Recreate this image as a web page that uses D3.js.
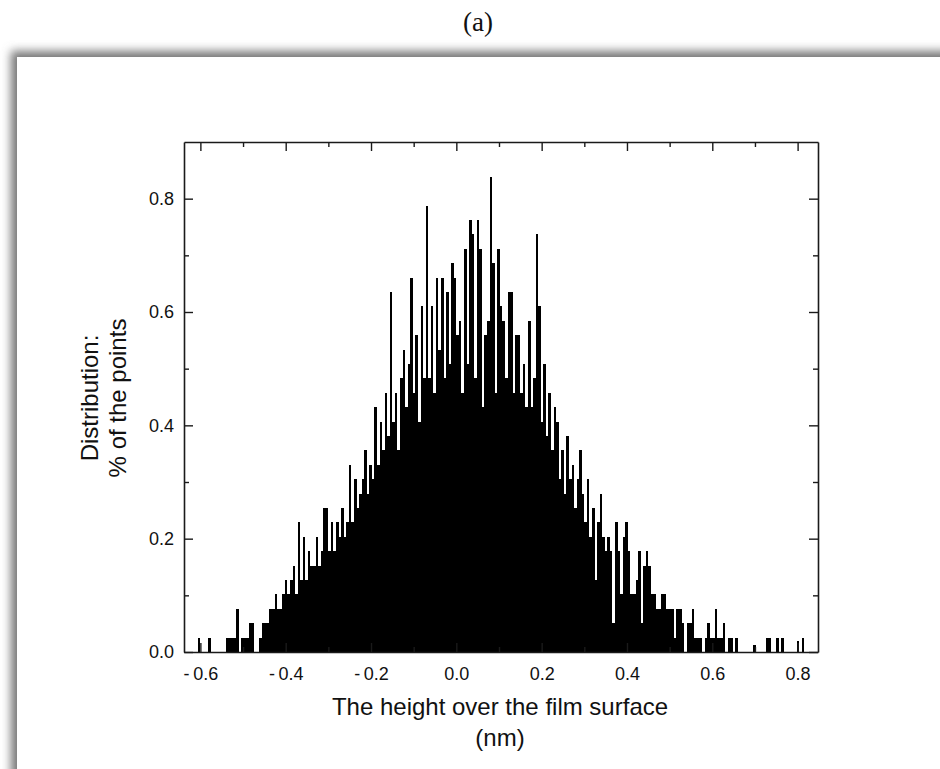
<!DOCTYPE html>
<html>
<head>
<meta charset="utf-8">
<script src="https://cdn.jsdelivr.net/npm/d3@7"></script>
<style>
  html, body { margin: 0; padding: 0; background: #fff; }
  svg { display: block; }
  text { font-family: "Liberation Sans", Arial, sans-serif; fill: #111; }
</style>
</head>
<body>
<div id="chart"></div>
<script>
// height histogram: share of the points (%) in each bin
const binStart = -0.606;
const binWidth = 0.006;
const distribution = [
    0.025, 0, 0, 0, 0.025, 0, 0, 0, 0, 0,
    0, 0.025, 0.025, 0.025, 0.025, 0.076, 0, 0.025, 0.025, 0.025,
    0.051, 0.051, 0, 0, 0.025, 0.051, 0.051, 0.051, 0.076, 0.076,
    0.102, 0.076, 0.076, 0.102, 0.127, 0.102, 0.127, 0.152, 0.102, 0.229,
    0.127, 0.203, 0.127, 0.178, 0.152, 0.152, 0.203, 0.152, 0.178, 0.254,
    0.254, 0.178, 0.229, 0.178, 0.229, 0.203, 0.254, 0.203, 0.229, 0.330,
    0.229, 0.305, 0.254, 0.279, 0.305, 0.356, 0.279, 0.330, 0.305, 0.432,
    0.330, 0.406, 0.356, 0.457, 0.381, 0.635, 0.406, 0.457, 0.356, 0.483,
    0.533, 0.432, 0.508, 0.660, 0.457, 0.559, 0.406, 0.610, 0.483, 0.787,
    0.483, 0.610, 0.457, 0.660, 0.533, 0.660, 0.483, 0.635, 0.508, 0.686,
    0.660, 0.559, 0.584, 0.457, 0.711, 0.508, 0.762, 0.737, 0.483, 0.762,
    0.711, 0.432, 0.559, 0.584, 0.838, 0.686, 0.457, 0.711, 0.610, 0.584,
    0.483, 0.635, 0.635, 0.457, 0.559, 0.559, 0.457, 0.508, 0.432, 0.584,
    0.432, 0.483, 0.737, 0.610, 0.406, 0.508, 0.381, 0.457, 0.356, 0.432,
    0.406, 0.305, 0.356, 0.279, 0.381, 0.305, 0.330, 0.254, 0.305, 0.356,
    0.279, 0.229, 0.305, 0.203, 0.254, 0.127, 0.229, 0.279, 0.203, 0.178,
    0.203, 0.178, 0.051, 0.229, 0.178, 0.102, 0.203, 0.229, 0.178, 0.102,
    0.102, 0.127, 0.178, 0.051, 0.152, 0.178, 0.152, 0.102, 0.102, 0.076,
    0.076, 0.102, 0.102, 0.076, 0.076, 0.076, 0.025, 0.076, 0.076, 0.051,
    0, 0.051, 0.051, 0.076, 0.025, 0.025, 0.025, 0, 0.025, 0.051,
    0.025, 0.025, 0.076, 0.025, 0.025, 0.051, 0, 0.025, 0.025, 0,
    0.025, 0, 0, 0, 0, 0, 0, 0.013, 0, 0,
    0, 0, 0.025, 0.025, 0, 0, 0.025, 0, 0.025, 0,
    0, 0, 0, 0, 0.020, 0, 0.025, 0
];
const xTickValues = [-0.6, -0.4, -0.2, 0.0, 0.2, 0.4, 0.6, 0.8];
const xMinorValues = [-0.5, -0.3, -0.1, 0.1, 0.3, 0.5, 0.7];
const yTickValues = [0.0, 0.2, 0.4, 0.6, 0.8];
const yMinorValues = [0.1, 0.3, 0.5, 0.7];
const panelLabel = "(a)";
const xTitle = ["The height over the film surface", "(nm)"];
const yTitle = ["Distribution:", "% of the points"];

const WIDTH = 940, HEIGHT = 769;
// plot frame in page pixels
const PLOT = {left: 184, right: 818, top: 142, bottom: 652};
const MAJOR = 9, MINOR = 5;

const svg = d3.select("#chart").append("svg")
    .attr("width", WIDTH)
    .attr("height", HEIGHT);

// panel with a soft shadow on the top and left edges
const defs = svg.append("defs");
defs.append("filter").attr("id", "shadow")
    .attr("x", "-5%").attr("y", "-5%").attr("width", "110%").attr("height", "110%")
    .append("feGaussianBlur").attr("stdDeviation", 5);
svg.append("rect")
    .attr("x", 11).attr("y", 51).attr("width", 1000).attr("height", 800)
    .attr("fill", "#777").attr("filter", "url(#shadow)");
svg.append("rect")
    .attr("x", 17).attr("y", 57).attr("width", 1000).attr("height", 800)
    .attr("fill", "#fff");

svg.append("text")
    .attr("x", 478).attr("y", 31)
    .attr("text-anchor", "middle")
    .style("font-family", "'Liberation Serif', 'Times New Roman', serif")
    .style("font-size", "27px")
    .text(panelLabel);

const x = d3.scaleLinear().domain([-0.6384, 0.8478]).range([PLOT.left, PLOT.right]);
const y = d3.scaleLinear().domain([0, 0.9]).range([PLOT.bottom, PLOT.top]);

// bars, snapped to pixels so neighbouring columns join without seams
const bins = distribution.map((v, i) => ({x0: binStart + i * binWidth, v: v}));
svg.append("g")
    .attr("shape-rendering", "crispEdges")
    .selectAll("rect")
    .data(bins.filter(d => d.v > 0))
    .join("rect")
    .attr("x", d => x(d.x0))
    .attr("width", d => x(d.x0 + binWidth) - x(d.x0))
    .attr("y", d => y(d.v))
    .attr("height", d => y(0) - y(d.v))
    .attr("fill", "#000");

// axes, ticks pointing inward on all four sides
const fmt = v => (v < 0 ? "-\u2009" + Math.abs(v).toFixed(1) : v.toFixed(1));

function styleAxis(g) {
    g.select(".domain").attr("stroke", "#1a1a1a").attr("stroke-width", 1.6);
    g.selectAll(".tick line").attr("stroke", "#1a1a1a").attr("stroke-width", 1.4);
    g.selectAll(".tick text").style("font-size", "18px")
        .style("font-family", "'Liberation Sans', Arial, sans-serif").attr("fill", "#111");
}

svg.append("g")
    .attr("transform", `translate(0,${PLOT.bottom})`)
    .call(d3.axisBottom(x).tickValues(xTickValues).tickFormat(fmt)
        .tickSize(-MAJOR).tickSizeOuter(0).tickPadding(15))
    .call(styleAxis);
svg.append("g")
    .attr("transform", `translate(0,${PLOT.bottom})`)
    .call(d3.axisBottom(x).tickValues(xMinorValues).tickFormat("").tickSize(-MINOR))
    .call(g => g.select(".domain").remove())
    .call(styleAxis);

svg.append("g")
    .attr("transform", `translate(0,${PLOT.top})`)
    .call(d3.axisTop(x).tickValues(xTickValues).tickFormat("").tickSize(-MAJOR).tickSizeOuter(0))
    .call(styleAxis);
svg.append("g")
    .attr("transform", `translate(0,${PLOT.top})`)
    .call(d3.axisTop(x).tickValues(xMinorValues).tickFormat("").tickSize(-MINOR))
    .call(g => g.select(".domain").remove())
    .call(styleAxis);

svg.append("g")
    .attr("transform", `translate(${PLOT.left},0)`)
    .call(d3.axisLeft(y).tickValues(yTickValues).tickFormat(d3.format(".1f"))
        .tickSize(-MAJOR).tickSizeOuter(0).tickPadding(10))
    .call(styleAxis);
svg.append("g")
    .attr("transform", `translate(${PLOT.left},0)`)
    .call(d3.axisLeft(y).tickValues(yMinorValues).tickFormat("").tickSize(-MINOR))
    .call(g => g.select(".domain").remove())
    .call(styleAxis);

svg.append("g")
    .attr("transform", `translate(${PLOT.right},0)`)
    .call(d3.axisRight(y).tickValues(yTickValues).tickFormat("").tickSize(-MAJOR).tickSizeOuter(0))
    .call(styleAxis);
svg.append("g")
    .attr("transform", `translate(${PLOT.right},0)`)
    .call(d3.axisRight(y).tickValues(yMinorValues).tickFormat("").tickSize(-MINOR))
    .call(g => g.select(".domain").remove())
    .call(styleAxis);

// axis titles
const xt = svg.append("g").style("font-size", "24px");
xt.append("text").attr("x", 500).attr("y", 715).attr("text-anchor", "middle").text(xTitle[0]);
xt.append("text").attr("x", 500).attr("y", 746).attr("text-anchor", "middle").text(xTitle[1]);

const yt = svg.append("g")
    .attr("transform", "translate(0,398) rotate(-90)")
    .style("font-size", "24px");
yt.append("text").attr("x", 0).attr("y", 98).attr("text-anchor", "middle").text(yTitle[0]);
yt.append("text").attr("x", 0).attr("y", 126).attr("text-anchor", "middle").text(yTitle[1]);
</script>
</body>
</html>
